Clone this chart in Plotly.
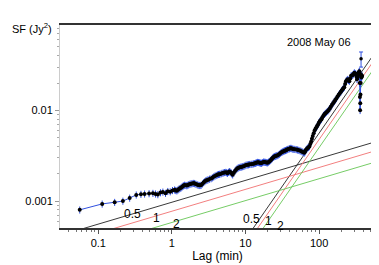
import plotly.graph_objects as go
import numpy as np

# Structure function data (lag in minutes, SF in Jy^2)
lag = [0.056, 0.113, 0.167, 0.216, 0.267, 0.328, 0.38, 0.426, 0.49, 0.553, 0.60, 0.645, 0.70, 0.755,
       0.82, 0.88, 0.95, 1.02, 1.09, 1.13, 1.17, 1.21, 1.25, 1.29, 1.33, 1.37, 1.41, 1.45, 1.49, 1.55,
       1.6, 1.65, 1.7, 1.76, 1.82, 1.88, 1.95, 2.0, 2.04, 2.12, 2.2, 2.27, 2.35, 2.42, 2.5, 2.6, 2.7,
       2.8, 2.9, 3.0, 3.1, 3.25, 3.41, 3.55, 3.7, 3.85, 4.0, 4.15, 4.3, 4.45, 4.65, 4.8, 5.0, 5.2,
       5.4, 5.55, 5.7, 5.9, 6.05, 6.2, 6.4, 6.55, 6.7, 6.95, 7.2, 7.45, 7.7, 7.95, 8.2, 8.5, 8.8,
       9.15, 9.5, 9.85, 10.2, 10.6, 11.0, 11.4, 11.9, 12.3, 12.8, 13.2, 13.7, 14.1, 14.6, 15.0,
       15.5, 16.0, 16.5, 17.0, 17.6, 18.2, 18.8, 19.4, 20.0, 20.6, 21.3, 22.0, 22.7, 23.3, 24.0,
       24.7, 25.5, 26.2, 27, 28, 29, 30, 31, 32, 33, 34, 35, 36, 37, 38, 39.5, 40.5, 41.5, 42.7,
       44, 45.5, 47, 49, 51, 53, 55, 57, 59, 61, 63, 64.5, 66, 68, 70, 72, 74, 76, 78, 80, 82,
       84.5, 87, 89.5, 92, 94.5, 97, 99.5, 102, 105, 108, 111, 115, 118, 122, 126, 131, 135, 140,
       145, 150, 155, 161, 166, 172, 178, 184, 190, 197, 202, 208, 214, 220, 226, 232, 238, 245,
       251, 258, 265, 272, 279, 287, 294, 302, 310, 318, 323, 328, 331, 335, 340, 345, 349, 353,
       355, 357, 359, 361, 363, 365, 368, 370, 373, 375, 380, 385]
sf = [0.00080, 0.00093, 0.00097, 0.00100, 0.00108, 0.00117, 0.00119, 0.00120, 0.00121, 0.00122,
      0.00120, 0.00118, 0.00124, 0.00126, 0.00122, 0.00128, 0.00127, 0.00131, 0.00133, 0.00131,
      0.00130, 0.00133, 0.00136, 0.00138, 0.00140, 0.00143, 0.00146, 0.00148, 0.00150, 0.00149,
      0.00148, 0.00150, 0.00152, 0.00154, 0.00155, 0.00156, 0.00157, 0.00157, 0.00156, 0.00154,
      0.00152, 0.00150, 0.00149, 0.00149, 0.00150, 0.00155, 0.00160, 0.00164, 0.00168, 0.00170,
      0.00172, 0.00175, 0.00177, 0.00181, 0.00185, 0.00189, 0.00192, 0.00195, 0.00197, 0.00198,
      0.00200, 0.00203, 0.00205, 0.00207, 0.00208, 0.00206, 0.00203, 0.00208, 0.00212, 0.00209,
      0.00205, 0.00200, 0.00195, 0.00205, 0.00215, 0.00222, 0.00228, 0.00232, 0.00235, 0.00237,
      0.00238, 0.00240, 0.00242, 0.00246, 0.00250, 0.00251, 0.00252, 0.00254, 0.00255, 0.00256,
      0.00258, 0.00260, 0.00262, 0.00265, 0.00268, 0.00267, 0.00265, 0.00263, 0.00262, 0.00266,
      0.00270, 0.00269, 0.00268, 0.00266, 0.00265, 0.00270, 0.00275, 0.00282, 0.00290, 0.00298,
      0.00305, 0.00310, 0.00313, 0.00316, 0.00318, 0.00324, 0.00330, 0.00338, 0.00345, 0.00350,
      0.00355, 0.00359, 0.00362, 0.00366, 0.00370, 0.00374, 0.00378, 0.00381, 0.00383, 0.00379,
      0.00375, 0.00373, 0.00372, 0.00370, 0.00367, 0.00364, 0.00360, 0.00355, 0.00350, 0.00345,
      0.00340, 0.00350, 0.00365, 0.00375, 0.00385, 0.00392, 0.00400, 0.00425, 0.00450, 0.00485,
      0.00520, 0.00560, 0.00600, 0.00625, 0.00650, 0.00675, 0.00700, 0.00730, 0.00760, 0.00780,
      0.00800, 0.00840, 0.00880, 0.00905, 0.00930, 0.00955, 0.00980, 0.01010, 0.01050, 0.01100,
      0.01150, 0.01200, 0.01250, 0.01300, 0.01350, 0.01420, 0.01480, 0.01530, 0.01590, 0.01650,
      0.01700, 0.01750, 0.01800, 0.01950, 0.02100, 0.02150, 0.02200, 0.02150, 0.02100, 0.02250,
      0.02400, 0.02420, 0.02450, 0.02520, 0.02600, 0.02550, 0.02500, 0.02350, 0.02200, 0.02300,
      0.02400, 0.02500, 0.02600, 0.02650, 0.02700, 0.02500, 0.02000, 0.01400, 0.01000, 0.01200,
      0.01500, 0.02000, 0.02500, 0.02400, 0.02300, 0.02350, 0.02400]

# Last outlying point with a large error bar
out_lag = [372]
out_sf = [0.037]
out_err = [0.007]

# Reference power-law lines: SF = 10^logA * lag^slope
line_labels = ["0.5", "1", "2"]
line_colors = ["#222222", "#f07070", "#66c655"]
shallow_slope = 0.241
shallow_logA = [-3.013, -3.112, -3.236]
steep_slope = 1.17
steep_logA = [-4.592, -4.662, -4.751]

# label positions
shallow_lab_x = [0.296, 0.625, 1.14]
shallow_lab_y = [0.000716, 0.000644, 0.000556]
steep_lab_x = [11.9, 20.7, 30.1]
steep_lab_y = [0.000629, 0.00061, 0.000533]

FONT = "Liberation Sans, Arial, Helvetica, sans-serif"

fig = go.Figure()

grid = np.logspace(-1.6, 2.85, 200)
for i in range(3):
    fig.add_trace(go.Scatter(x=grid, y=10 ** shallow_logA[i] * grid ** shallow_slope, mode="lines",
                             line=dict(color=line_colors[i], width=0.9), showlegend=False, hoverinfo="skip"))
    fig.add_trace(go.Scatter(x=grid, y=10 ** steep_logA[i] * grid ** steep_slope, mode="lines",
                             line=dict(color=line_colors[i], width=0.9), showlegend=False, hoverinfo="skip"))

fig.add_trace(go.Scatter(x=lag, y=sf, mode="lines+markers",
                         line=dict(color="#3050e0", width=1),
                         marker=dict(color="black", size=4),
                         error_y=dict(type="percent", value=9, color="#3050e0", thickness=1, width=0),
                         showlegend=False))
fig.add_trace(go.Scatter(x=out_lag, y=out_sf, mode="markers",
                         marker=dict(color="black", size=3.5),
                         error_y=dict(type="data", array=out_err, color="#3050e0", thickness=1, width=2),
                         showlegend=False))

ann = []
for i in range(3):
    ann.append(dict(x=np.log10(shallow_lab_x[i]), y=np.log10(shallow_lab_y[i]), text=line_labels[i],
                    showarrow=False, font=dict(size=12, color="black", family=FONT)))
    ann.append(dict(x=np.log10(steep_lab_x[i]), y=np.log10(steep_lab_y[i]), text=line_labels[i],
                    showarrow=False, font=dict(size=12, color="black", family=FONT)))
ann.append(dict(x=2.0, y=np.log10(0.0562), text="2008 May 06", showarrow=False,
                font=dict(size=11, color="black", family=FONT)))
ann.append(dict(xref="paper", yref="paper", x=-0.158, y=0.985, xanchor="left", yanchor="middle",
                text="SF (Jy<sup>2</sup>)", showarrow=False, font=dict(size=11, color="black", family=FONT)))

xminor = [m * 10 ** e for e in range(-2, 3) for m in range(2, 10)]
yminor = [m * 10 ** e for e in range(-4, -1) for m in range(2, 10)]

fig.update_layout(
    width=379, height=265,
    margin=dict(l=52, r=12, t=17, b=37),
    plot_bgcolor="white", paper_bgcolor="white",
    font=dict(family=FONT, size=11, color="black"),
    annotations=ann,
    xaxis=dict(type="log", range=[-1.52, 2.76], tickvals=[0.1, 1, 10, 100], ticktext=["0.1", "1", "10", "100"],
               showgrid=False, zeroline=False, showline=True, linecolor="#333333", linewidth=1.5, mirror=True,
               ticks="outside", ticklen=4, tickcolor="#555555",
               minor=dict(tickvals=xminor, ticks="outside", ticklen=2, tickcolor="#777777"),
               title=dict(text="Lag (min)", font=dict(size=12), standoff=4)),
    yaxis=dict(type="log", range=[-3.297, -1.059], tickvals=[0.001, 0.01], ticktext=["0.001", "0.01"],
               showgrid=False, zeroline=False, showline=True, linecolor="#cccccc", linewidth=1,
               ticks="outside", ticklen=4, tickcolor="#999999",
               minor=dict(tickvals=yminor, ticks="outside", ticklen=2, tickcolor="#aaaaaa")),
    shapes=[dict(type="line", xref="paper", yref="paper", x0=1, x1=1, y0=0, y1=1,
                 line=dict(color="black", width=1.5))],
)

fig.write_html("out.html")
